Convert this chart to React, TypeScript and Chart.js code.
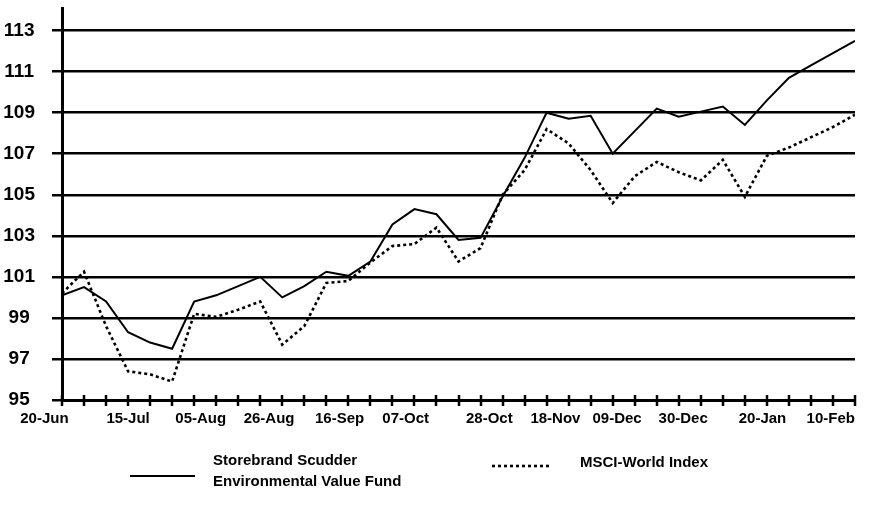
import React, { useEffect, useRef } from 'react';
import { Chart, registerables } from 'chart.js';

Chart.register(...registerables);

// ---- data -------------------------------------------------------------
const seriesNames = ['Storebrand Scudder|Environmental Value Fund', 'MSCI-World Index'];

// weekly index values (37 weeks)
const fundValues = [
  100.1, 100.5, 99.8, 98.3, 97.8, 97.5, 99.8, 100.1, 100.55, 101.0,
  100.0, 100.55, 101.25, 101.05, 101.75, 103.55, 104.3, 104.05, 102.8, 102.9,
  104.9, 106.8, 109.0, 108.7, 108.85, 107.0, 108.1, 109.2, 108.8, 109.05,
  109.3, 108.4, 109.6, 110.7, 111.3, 111.9, 112.5,
];
const msciValues = [
  100.2, 101.25, 98.6, 96.4, 96.25, 95.9, 99.2, 99.05, 99.4, 99.8,
  97.7, 98.6, 100.7, 100.8, 101.7, 102.5, 102.6, 103.4, 101.75, 102.4,
  105.0, 106.2, 108.2, 107.5, 106.2, 104.6, 105.9, 106.6, 106.1, 105.7,
  106.7, 104.9, 106.9, 107.3, 107.8, 108.3, 108.9,
];

// x-axis date labels and the week (axis value) under which each one sits
const tickLabels = ['20-Jun', '15-Jul', '05-Aug', '26-Aug', '16-Sep', '07-Oct', '28-Oct', '18-Nov', '09-Dec', '30-Dec', '20-Jan', '10-Feb'];
const tickLabelWeek = [-0.8, 3.0, 6.3, 9.4, 12.6, 15.6, 19.4, 22.4, 25.2, 28.2, 31.8, 34.9];

const yTicks = [95, 97, 99, 101, 103, 105, 107, 109, 111, 113];
const yMin = 95;
const yMax = 114.1;

// ---- styling ----------------------------------------------------------
const FONT = "'Liberation Sans', Arial, Helvetica, sans-serif";

const weekTickMarks = {
  id: 'weekTickMarks',
  afterDraw(chart: any) {
    const xs = chart.scales.x;
    const ctx = chart.ctx;
    const yb = chart.chartArea.bottom;
    ctx.save();
    ctx.strokeStyle = '#000';
    ctx.lineWidth = 2.5;
    for (let i = 0; i < fundValues.length; i++) {
      const x = Math.round(xs.getPixelForValue(i));
      ctx.beginPath();
      ctx.moveTo(x, yb - 5);
      ctx.lineTo(x, yb + 6);
      ctx.stroke();
    }
    ctx.restore();
  },
};

const customLegend = {
  id: 'customLegend',
  afterDraw(chart: any) {
    const ctx = chart.ctx;
    ctx.save();
    ctx.fillStyle = '#000';
    ctx.strokeStyle = '#000';
    ctx.font = `bold 15px ${FONT}`;
    ctx.textBaseline = 'middle';
    ctx.textAlign = 'left';

    // solid series
    ctx.lineWidth = 2;
    ctx.setLineDash([]);
    ctx.beginPath();
    ctx.moveTo(130, 476);
    ctx.lineTo(195, 476);
    ctx.stroke();
    const lines = seriesNames[0].split('|');
    ctx.fillText(lines[0], 213, 461);
    ctx.fillText(lines[1], 213, 482);

    // dotted series
    ctx.lineWidth = 2.6;
    ctx.setLineDash([3, 3]);
    ctx.beginPath();
    ctx.moveTo(492, 466);
    ctx.lineTo(552, 466);
    ctx.stroke();
    ctx.setLineDash([]);
    ctx.fillText(seriesNames[1], 580, 463);
    ctx.restore();
  },
};

export default function App() {
  const ref = useRef<HTMLCanvasElement>(null);

  useEffect(() => {
    const canvas = ref.current;
    if (!canvas) return;
    const chart = new Chart(canvas, {
      type: 'line',
      data: {
        datasets: [
          {
            label: seriesNames[0].replace('|', ' '),
            data: fundValues.map((v, i) => ({ x: i, y: v })),
            borderColor: '#000',
            borderWidth: 2,
            pointRadius: 0,
            tension: 0,
            fill: false,
          },
          {
            label: seriesNames[1],
            data: msciValues.map((v, i) => ({ x: i, y: v })),
            borderColor: '#000',
            borderWidth: 2.6,
            borderDash: [3, 3],
            pointRadius: 0,
            tension: 0,
            fill: false,
          },
        ],
      },
      options: {
        responsive: false,
        animation: false,
        devicePixelRatio: 1,
        layout: { padding: { top: 8, right: 33, left: 0, bottom: 0 } },
        plugins: { legend: { display: false }, tooltip: { enabled: false } },
        scales: {
          x: {
            type: 'linear',
            min: 0,
            max: fundValues.length - 1,
            afterBuildTicks: (s: any) => {
              s.ticks = tickLabelWeek.map((v) => ({ value: v }));
            },
            afterFit: (s: any) => {
              s.height = 111;
              s.paddingLeft = 0;
              s.paddingRight = 0;
            },
            grid: { display: false, drawTicks: false },
            border: { display: true, color: '#000', width: 3 },
            ticks: {
              autoSkip: false,
              maxRotation: 0,
              padding: 10,
              color: '#000',
              font: { family: FONT, size: 15, weight: 'bold' },
              callback: (_v: any, i: number) => tickLabels[i],
            },
          },
          y: {
            type: 'linear',
            min: yMin,
            max: yMax,
            afterBuildTicks: (s: any) => {
              s.ticks = yTicks.map((v) => ({ value: v }));
            },
            afterFit: (s: any) => {
              s.width = 62;
              s.paddingTop = 0;
              s.paddingBottom = 0;
            },
            grid: {
              color: '#000',
              lineWidth: 2.5,
              drawTicks: true,
              tickLength: 10,
              tickColor: '#000',
              tickWidth: 2.5,
            },
            border: { display: true, color: '#000', width: 3 },
            ticks: {
              padding: 17,
              crossAlign: 'center',
              color: '#000',
              font: { family: FONT, size: 19, weight: 'bold' },
              callback: (v: any) => String(v),
            },
          },
        },
      },
      plugins: [weekTickMarks, customLegend],
    } as any);
    return () => chart.destroy();
  }, []);

  return (
    <div style={{ position: 'fixed', left: 0, top: 0, width: 888, height: 511, background: '#fff' }}>
      <canvas ref={ref} width={888} height={511} style={{ display: 'block' }} />
    </div>
  );
}
